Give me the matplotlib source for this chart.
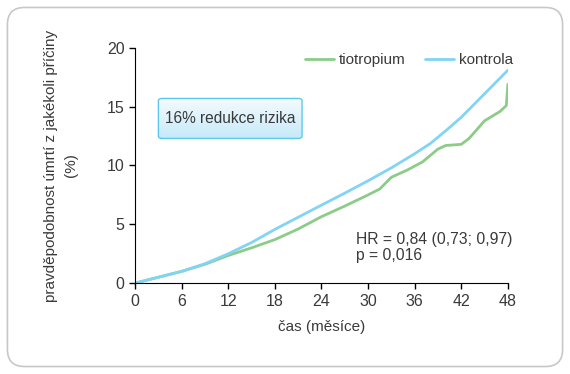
import numpy as np
import matplotlib
matplotlib.use('Agg')
import matplotlib.pyplot as plt
from matplotlib.patches import FancyBboxPatch

# data
months_kontrola = [0, 3, 6, 9, 12, 15, 18, 21, 24, 27, 30, 33, 36, 38, 40, 42, 45, 48]
kontrola = [0, 0.5, 1.0, 1.65, 2.5, 3.45, 4.57, 5.6, 6.63, 7.65, 8.7, 9.8, 11.0, 11.86, 12.95, 14.1, 16.1, 18.1]

months_tio = [0, 3, 6, 9, 12, 15, 18, 21, 24, 27, 30, 31.5, 33, 35, 37, 39, 40, 42, 43, 45, 47, 47.8, 48]
tiotropium = [0, 0.5, 1.0, 1.6, 2.35, 3.0, 3.7, 4.6, 5.65, 6.55, 7.5, 8.0, 9.0, 9.6, 10.3, 11.4, 11.7, 11.8, 12.3, 13.8, 14.6, 15.1, 16.9]

x_ticks = [0, 6, 12, 18, 24, 30, 36, 42, 48]
y_ticks = [0, 5, 10, 15, 20]

green = '#8ccc88'
blue = '#82d4f4'
text_col = '#3a3a3a'

plt.rcParams['font.family'] = ['Liberation Sans', 'DejaVu Sans']

fig = plt.figure(figsize=(5.7, 3.74), dpi=100)
ax = fig.add_axes([0.237, 0.243, 0.654, 0.629])

# rounded frame around the whole figure
frame = FancyBboxPatch((0.013, 0.02), 0.974, 0.96, boxstyle='round,pad=0,rounding_size=0.03',
                       transform=fig.transFigure, facecolor='white', edgecolor='#c8c8c8',
                       linewidth=1.2, zorder=-10, mutation_aspect=570 / 374)
fig.patches.append(frame)

ax.plot(months_tio, tiotropium, color=green, lw=2, label='tiotropium', solid_capstyle='round')
ax.plot(months_kontrola, kontrola, color=blue, lw=2, label='kontrola', solid_capstyle='round')

ax.set_xlim(0, 48)
ax.set_ylim(0, 20)
ax.set_xticks(x_ticks)
ax.set_yticks(y_ticks)
ax.tick_params(direction='out', length=4, width=1, colors='black', labelcolor=text_col, labelsize=11.5)
for s in ['top', 'right']:
    ax.spines[s].set_visible(False)
ax.patch.set_alpha(0)

ax.set_xlabel('čas (měsíce)', fontsize=11, color=text_col, labelpad=8)
ax.set_ylabel('pravděpodobnost úmrtí z jakékoli příčiny\n(%)', fontsize=11, color=text_col,
              labelpad=21, linespacing=1.5)

leg = ax.legend(loc='upper right', bbox_to_anchor=(1.05, 1.035), ncol=2, frameon=False,
                fontsize=11, handlelength=1.9, handletextpad=0.3, columnspacing=1.3)
for t in leg.get_texts():
    t.set_color(text_col)

# gradient box "16% redukce rizika"
bx, by, bw, bh = 3.0, 12.3, 18.5, 3.4
box = FancyBboxPatch((bx, by), bw, bh, boxstyle='round,pad=0,rounding_size=0.5',
                     facecolor='none', edgecolor='#5cc8ef', linewidth=1, zorder=4,
                     mutation_aspect=0.4)
ax.add_patch(box)
grad = np.linspace(0, 1, 100).reshape(-1, 1)
im = ax.imshow(grad, extent=[bx, bx + bw, by, by + bh], origin='upper', aspect='auto',
               cmap=matplotlib.colors.LinearSegmentedColormap.from_list('g', ['#f4fbfe', '#c6eaf9']),
               zorder=3)
im.set_clip_path(box)
ax.text(bx + bw / 2, by + bh / 2, '16% redukce rizika', ha='center', va='center',
        fontsize=11.2, color=text_col, zorder=5)

ax.text(28.4, 3.0, 'HR = 0,84 (0,73; 0,97)\np = 0,016', ha='left', va='center',
        fontsize=11.3, color=text_col, linespacing=1.1)

fig.savefig('out.png', dpi=100)
